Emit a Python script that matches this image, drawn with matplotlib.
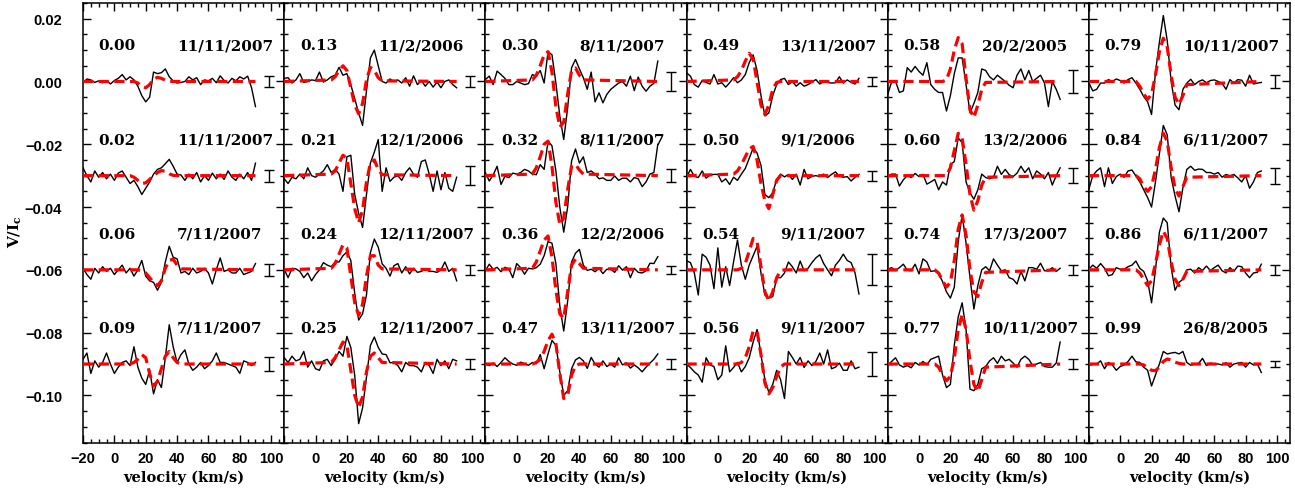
import matplotlib
matplotlib.use("Agg")
import matplotlib.pyplot as plt
from matplotlib.ticker import MultipleLocator, FuncFormatter

plt.rcParams['font.family'] = ['DejaVu Serif']
plt.rcParams['mathtext.fontset'] = 'dejavuserif'

# ---------------- data ----------------
velocity = [-20.0, -17.5, -15.0, -12.5, -10.0, -7.5, -5.0, -2.5, 0.0, 2.5,
            5.0, 7.5, 10.0, 12.5, 15.0, 17.5, 20.0, 22.5, 25.0, 27.5,
            30.0, 32.5, 35.0, 37.5, 40.0, 42.5, 45.0, 47.5, 50.0, 52.5,
            55.0, 57.5, 60.0, 62.5, 65.0, 67.5, 70.0, 72.5, 75.0, 77.5,
            80.0, 82.5, 85.0, 87.5, 90.0]
model_velocity = [-20.0, 10.0, 12.5, 15.0, 17.5, 20.0, 22.5, 25.0, 27.5, 30.0,
                  32.5, 35.0, 37.5, 40.0, 42.5, 90.0]
offsets = [0.0, -0.03, -0.06, -0.09]
unit = 1e-3   # profile values below are in units of 1e-3 (V/Ic)

phases = [["0.00", "0.02", "0.06", "0.09"],
          ["0.13", "0.21", "0.24", "0.25"],
          ["0.30", "0.32", "0.36", "0.47"],
          ["0.49", "0.50", "0.54", "0.56"],
          ["0.58", "0.60", "0.74", "0.77"],
          ["0.79", "0.84", "0.86", "0.99"]]
dates = [["11/11/2007", "11/11/2007", "7/11/2007", "7/11/2007"],
         ["11/2/2006", "12/1/2006", "12/11/2007", "12/11/2007"],
         ["8/11/2007", "8/11/2007", "12/2/2006", "13/11/2007"],
         ["13/11/2007", "9/1/2006", "9/11/2007", "9/11/2007"],
         ["20/2/2005", "13/2/2006", "17/3/2007", "10/11/2007"],
         ["10/11/2007", "6/11/2007", "6/11/2007", "26/8/2005"]]
errors = [[1.6, 1.9, 2.0, 2.3],
          [1.75, 3.0, 1.7, 1.7],
          [2.9, 2.1, 1.35, 1.6],
          [1.5, 1.6, 4.9, 3.7],
          [3.7, 2.4, 1.6, 1.7],
          [2.0, 2.55, 1.6, 1.0]]

# observed Stokes V profiles (1e-3 units)
obs_000 = [-0.5, 0.8, 0.5, -0.3, 0.2, -0.4, 0.3, -0.8, 0.3, 1.0, 2.2, 0.5, 1.5, 0.5, -1.5, -4.5, -6.5, -5.0, 3.0, 2.5, 2.8, 4.0, 1.5, 0.2, -0.5, -0.3, 0.0, 1.5, 0.5, 1.2, -1.0, 0.5, 0.2, 1.0, -0.4, 1.8, 0.3, -0.5, 1.0, 0.2, 1.5, 0.8, 1.7, -2.0, -8.0]
obs_002 = [2.5, 0.0, -2.0, 1.5, -0.5, 1.0, -1.0, 0.5, -1.5, 0.8, 1.5, -0.5, -2.5, -1.5, -3.5, -6.0, -4.0, -2.0, 0.5, 2.0, 2.5, 3.8, 5.2, 3.0, 0.5, 0.2, -1.5, 0.5, -1.0, 1.0, -2.0, 0.0, -1.5, 0.8, -1.0, 0.5, -1.2, 1.5, -0.5, -1.5, 0.5, -1.0, 1.0, -1.5, 4.0]
obs_006 = [0.5, -1.5, -3.0, 0.5, -1.0, 1.0, -0.5, 0.5, -1.5, 0.0, 1.5, -1.0, 0.5, -2.0, 0.0, 3.0, -2.0, -3.5, -4.0, -6.5, -4.0, 2.5, 7.5, 4.0, 3.5, -1.0, -0.5, -1.5, 0.5, -1.0, -0.5, 0.5, -1.0, -4.5, 0.0, 3.8, -0.5, 0.0, -1.0, -1.0, 0.5, -1.5, -1.0, -0.5, 2.0]
obs_009 = [1.5, 3.5, -3.0, 1.0, -1.0, 0.5, 3.5, 0.0, -3.0, -1.0, 0.5, 1.0, -0.5, 5.5, -1.0, -4.5, -6.5, -2.0, -9.5, -5.0, -7.5, 2.0, 12.5, 5.5, 0.5, 3.0, 4.5, 0.0, -2.0, -1.0, 0.5, -1.5, -0.5, 1.0, 3.5, 0.5, 0.5, 0.0, -0.5, -1.0, -3.0, 1.0, 0.5, -0.5, 0.5]
obs_013 = [1.0, 1.2, -0.5, 0.5, 2.5, -0.3, 0.0, 0.5, 0.3, 3.0, -0.2, 0.5, 1.5, 2.0, 4.5, 2.0, 2.5, -1.0, -5.5, -10.0, -14.0, -3.0, 7.5, 10.0, 5.0, 0.0, -0.5, 0.8, 0.0, 0.5, -0.5, 1.2, -1.5, 1.8, -1.0, 0.3, -1.5, 0.0, -1.8, -0.2, -2.0, 0.0, 0.5, -1.0, -2.0]
obs_021 = [-1.0, -2.5, -0.5, -1.0, 0.5, -1.0, 2.5, 0.0, -0.5, 0.5, 1.5, 3.5, 1.0, 2.0, 0.5, -5.0, 6.0, 6.5, -6.0, -12.0, -16.5, -6.0, 4.0, 7.5, 11.5, -5.0, 2.5, -1.8, -0.5, 0.0, -1.5, 1.0, 2.5, 0.5, -0.5, 4.5, 5.0, 0.5, -5.0, 1.5, -4.5, 1.0, -4.0, -5.0, -0.5]
obs_024 = [0.2, -2.5, 0.5, 0.3, -0.5, -2.5, -1.0, -3.5, -1.5, 0.0, 2.3, 1.5, 1.0, 2.5, 2.5, 4.5, 5.7, 3.0, -7.5, -16.0, -14.0, -8.0, 5.5, 9.8, 7.2, 1.9, 0.5, -2.0, 1.3, 2.0, -1.0, 1.0, -1.3, 0.5, -0.8, -0.5, 0.3, -0.5, -0.5, -0.8, 0.0, 2.5, -0.5, 0.5, -3.5]
obs_025 = [2.0, 0.5, 2.5, 1.0, 1.5, 4.0, -1.0, 1.0, -1.5, -2.0, 1.0, 1.5, -0.5, 1.5, 4.0, 2.5, 8.8, 5.3, -3.6, -19.0, -14.0, -4.2, 5.9, 8.6, 5.3, 3.2, 3.0, 0.4, 0.5, -0.5, -2.5, 0.5, -0.5, -0.5, -1.0, -2.5, 0.5, -0.5, -3.0, 1.5, -0.5, 1.0, -1.5, 1.5, 1.0]
obs_030 = [0.6, 1.7, -1.0, 3.3, 2.2, 1.0, -1.0, -1.0, 0.0, -0.5, -1.0, -0.7, 2.2, 1.7, 3.5, -0.5, 9.5, 8.5, -0.5, -11.0, -18.5, -8.4, 4.4, 7.0, 4.0, 1.2, -2.5, 3.0, -6.5, -3.6, -6.8, -4.1, -2.5, -1.5, -0.5, 0.0, -1.5, 1.7, -2.9, 1.4, -1.5, -3.1, -1.5, -0.6, 6.5]
obs_032 = [1.0, -1.7, 0.2, 3.0, -2.8, -0.2, -0.6, 0.8, 0.5, 1.0, 2.0, 1.5, 0.5, 0.3, 3.5, 2.0, 11.0, 9.5, 1.5, -10.0, -18.0, -10.0, 4.7, 8.5, 4.0, 6.0, 1.0, 1.5, 0.5, -1.0, -0.7, -1.5, -1.5, -0.1, -1.5, -0.8, -0.8, -2.0, -0.6, -1.0, -3.5, -2.0, 0.5, 1.0, 10.0]
obs_036 = [-0.3, 1.8, 0.2, 0.8, -0.6, 0.8, 0.3, -2.5, 2.0, 0.7, -1.4, 0.5, 0.3, 0.7, 1.8, 4.5, 9.0, 8.5, 2.0, -11.5, -19.5, -10.0, 2.5, 5.3, 6.5, 1.5, -0.2, 0.2, -0.6, 0.5, -1.2, 0.2, 0.2, -0.8, 1.3, -0.1, 1.0, -2.5, 0.5, -0.8, -1.0, -0.3, 2.1, 2.0, 4.2]
obs_047 = [0.0, -0.5, 0.3, -0.8, 0.5, 2.0, 0.8, 0.0, -0.4, 0.6, 0.1, -0.4, 0.5, 0.1, 3.0, -1.5, 3.2, 7.5, 6.0, -2.5, -10.0, -8.5, -1.5, 1.3, 2.1, 1.0, -1.4, 2.1, 0.0, -1.0, 1.0, -0.8, 0.0, -1.0, 2.0, -0.3, 0.4, -1.3, -0.3, -1.2, -2.5, -1.0, 0.3, 1.5, 3.2]
obs_049 = [2.8, 1.7, -1.0, -1.8, 0.3, -0.3, -0.8, 2.2, -0.8, -0.4, -1.8, -0.4, 1.2, -0.4, 0.5, 2.2, 6.0, 8.5, 3.5, -4.5, -11.0, -10.0, -4.5, -1.0, 0.6, 1.0, -1.0, 0.0, -1.5, -0.4, -1.5, -1.0, -0.2, 0.6, -0.8, 0.0, -0.3, -0.5, -0.4, 1.5, -0.5, 0.5, -0.3, -0.8, 1.0]
obs_050 = [-0.6, 2.0, -0.2, -0.6, 1.5, -0.8, 0.2, 0.4, 0.4, -2.0, -1.0, -2.8, -0.5, -1.5, 0.5, 2.3, 5.5, 8.8, 7.2, 3.3, -6.0, -7.0, -5.5, -1.2, 0.5, -0.4, 0.4, -1.2, 0.5, -3.0, 2.0, -1.0, -0.2, 0.0, -0.3, 0.5, -0.6, 0.4, 1.2, -0.2, -0.5, -0.3, -1.7, -0.5, 0.4]
obs_054 = [2.9, 2.3, -1.0, -8.0, 5.0, 4.0, 1.5, -6.0, 7.0, -5.5, 1.0, -5.0, 2.5, 9.5, 1.5, -3.0, 1.5, 4.5, 7.5, -1.0, -8.0, -9.0, -8.5, -2.5, -2.5, -1.0, 2.5, 1.0, -1.0, 2.8, -0.3, 0.5, 2.3, 3.8, 4.8, 2.0, 0.0, -1.9, 1.5, 3.0, 5.0, 3.0, 2.3, -1.0, -7.7]
obs_056 = [0.0, -1.1, -2.5, -3.5, -5.8, 2.0, -0.3, -0.8, -5.0, -3.5, 5.8, -2.5, -1.1, 0.5, -2.5, -0.8, 2.0, 7.0, 11.0, 3.0, -5.0, -9.0, -6.5, -2.0, -5.0, -11.0, 4.0, 2.1, 0.0, 2.1, -1.1, 1.0, -0.5, 0.8, 3.5, 0.0, 4.5, -1.5, -1.0, 0.3, -2.0, -2.0, 1.0, -1.5, -1.0]
obs_058 = [-4.1, -0.2, 0.1, -3.5, -3.0, 4.4, 3.0, 4.8, 3.2, 2.0, 6.0, -1.0, -2.5, -3.5, -3.5, -9.4, -4.5, 2.5, 7.5, 7.5, -1.0, -10.0, -7.0, -3.5, 4.0, 3.5, 1.5, 0.5, 2.0, 1.0, 0.0, -1.2, -2.0, 2.0, 4.0, 0.5, 3.5, 0.0, 1.0, 2.0, -0.5, -8.0, 0.0, -2.5, -5.7]
obs_060 = [-0.1, 0.5, 0.5, -3.3, -1.3, 0.0, -0.6, 0.7, -0.3, 0.4, -2.7, -2.0, -1.2, -4.5, -2.0, -3.0, 3.5, 4.5, 12.0, 10.5, -2.0, -5.5, -7.5, -4.5, 0.5, -0.6, -1.0, -0.5, 3.0, 0.4, 2.0, 0.3, -0.3, 0.8, 3.0, 1.0, 2.5, -1.0, 1.5, 0.5, -1.0, 1.0, -3.0, 0.0, 2.5]
obs_074 = [0.2, 0.7, -0.2, 0.7, 1.8, -0.1, -0.3, 1.8, -1.3, 3.5, 2.5, -0.5, -0.3, -1.3, -3.7, -7.0, -9.0, -5.5, 9.0, 17.5, 8.5, -2.5, -12.5, -5.0, 0.0, 1.0, -0.3, 3.5, 1.5, -0.3, 0.0, -2.5, -3.0, -4.5, -0.5, -3.5, 0.7, 0.7, 0.2, 2.1, -0.3, -0.3, 0.7, -0.5, 0.5]
obs_077 = [-0.5, 0.8, 2.0, -0.3, -1.0, -0.5, -1.2, 0.5, -0.3, 0.8, -0.2, 1.5, 2.0, 2.5, -3.5, -7.5, -6.5, 6.0, 15.0, 19.5, 11.0, -8.0, -8.5, -6.5, -1.5, -0.8, 1.0, 2.0, 0.2, 2.5, 1.0, 1.5, 0.3, -1.0, 1.5, 2.5, 1.5, -0.5, 0.0, 0.5, -0.8, -1.0, -1.0, 0.3, 7.0]
obs_079 = [-0.4, -3.0, -2.5, -0.5, -0.5, 0.6, 0.0, 0.8, 0.3, -0.5, 0.6, 1.2, -0.5, -2.5, -4.8, -6.5, -10.5, 3.0, 12.5, 21.0, 13.0, 0.0, -7.5, -9.0, -2.5, -0.5, 0.7, -1.0, 0.0, 0.5, -0.4, 0.3, 0.5, 0.0, -0.6, -2.5, 0.6, -0.5, 0.6, 0.4, -1.5, 2.0, -0.8, -0.5, -0.3]
obs_084 = [-4.4, 0.0, 1.5, 2.5, -3.5, 2.5, -2.5, -0.3, 0.5, -0.5, 1.5, 1.8, -0.1, -2.0, -4.5, -7.0, -10.0, -2.0, 7.0, 16.0, 13.0, -0.6, -6.5, -11.5, -3.8, 2.0, 3.0, 1.7, 2.1, 2.0, 1.0, 1.0, 0.5, 1.0, -0.5, 0.4, -0.1, 0.4, -0.7, -2.0, 0.0, -4.0, -2.0, 1.0, 1.5]
obs_086 = [0.2, 1.5, 0.5, 2.0, 0.5, -1.9, -1.5, 0.7, 0.2, 0.2, 1.0, 1.5, 2.8, 0.5, -0.5, -3.5, -10.5, 0.0, 12.0, 16.5, 15.0, 0.7, -6.5, -4.0, -3.0, 0.0, 0.2, -1.0, 0.7, -0.2, 1.2, -0.2, 0.7, 1.5, -0.3, -1.0, 0.7, -0.5, 1.2, 1.0, -1.0, -2.5, -1.0, -0.8, 1.8]
obs_099 = [-0.5, 0.0, 0.0, 1.0, -1.5, 0.5, -0.3, -2.0, -0.8, -0.3, 0.8, 2.5, 0.7, 0.5, -1.0, -2.0, -7.0, -3.5, 0.0, 4.0, 3.2, 3.5, 3.7, 3.2, 4.0, 0.5, -0.4, 0.0, 0.2, 1.8, -0.5, 0.3, 0.0, 0.0, -0.3, 0.4, -1.0, 0.0, 0.3, 0.5, -1.0, 0.5, -0.3, 0.0, -2.7]

# model profiles on model_velocity (1e-3 units)
mod_000 = [0, 0, 0, -0.5, -1.5, -2.0, -1.0, 0.8, 1.3, 1.0, 0.4, 0.1, 0, 0, 0, 0]
mod_002 = [0, 0, -0.5, -1.5, -2.5, -2.3, -1.2, 0.0, 1.0, 1.6, 1.4, 0.6, 0.1, 0, 0, 0]
mod_006 = [0, 0, 0, 0, -0.3, -1.0, -2.5, -4.0, -5.0, -3.5, 0.5, 3.0, 3.4, 1.5, 0.3, 0]
mod_009 = [0, 0, 0.5, 1.5, 3.0, 2.0, -3.0, -7.0, -5.5, -1.5, 2.5, 4.0, 2.0, 0.5, 0, 0]
mod_013 = [0, 0.5, 1.5, 3.5, 5.0, 3.5, -2.0, -7.5, -10.3, -7.0, 0.5, 4.5, 3.5, 1.2, 0.2, 0]
mod_021 = [0, 0.5, 1.5, 4.0, 6.5, 5.5, -2.5, -10.5, -15.0, -11.0, -2.0, 4.0, 5.0, 2.0, 0.3, 0]
mod_024 = [0, 0.5, 2.0, 5.0, 8.0, 7.0, -2.0, -10.5, -14.5, -11.0, -2.0, 4.5, 4.5, 1.5, 0.3, 0]
mod_025 = [0, 0.5, 2.0, 4.5, 7.0, 6.0, -2.0, -10.0, -13.8, -10.5, -2.5, 2.5, 3.5, 2.0, 0.5, 0]
mod_030 = [0, 0.5, 2.0, 5.0, 8.5, 9.5, 3.0, -8.0, -14.5, -13.0, -4.0, 3.5, 4.3, 2.0, 0.5, 0]
mod_032 = [0, 0.5, 2.5, 6.0, 10.0, 11.0, 3.0, -8.5, -15.5, -13.5, -4.5, 3.0, 3.6, 1.8, 0.5, 0]
mod_036 = [0, 0.5, 2.5, 6.0, 9.5, 10.8, 4.0, -6.5, -14.0, -15.5, -7.0, 1.5, 3.4, 2.0, 0.5, 0]
mod_047 = [0, 0, 0.5, 1.5, 4.0, 7.5, 9.5, 6.5, -3.0, -11.0, -10.0, -3.5, -0.5, 0, 0, 0]
mod_049 = [0, 0.5, 1.5, 3.5, 6.5, 9.0, 7.0, 0.0, -7.5, -10.5, -7.5, -2.5, -0.3, 0, 0, 0]
mod_050 = [0, 0.5, 1.5, 3.5, 6.0, 8.5, 9.3, 5.0, -2.5, -8.0, -10.5, -6.0, -1.5, 0, 0, 0]
mod_054 = [0, 0, 0, 0.5, 2.0, 6.0, 10.0, 9.0, 1.0, -7.0, -9.9, -7.0, -2.5, -0.3, 0, 0]
mod_056 = [0, 0, 0, 0.5, 2.0, 5.5, 10.5, 10.5, 3.0, -6.0, -9.5, -7.5, -4.0, -1.0, 0, 0]
mod_058 = [0, 0, 0, 0, 0.5, 4.0, 10.0, 14.0, 12.0, 1.0, -9.0, -11.5, -7.5, -2.5, -0.3, 0]
mod_060 = [0, 0, 0, 0, 0, 2.5, 8.0, 13.5, 12.0, 3.5, -6.0, -11.0, -8.0, -3.0, -0.5, 0]
mod_074 = [0, 0, -1.0, -3.5, -5.5, -4.0, 3.0, 13.0, 17.5, 11.0, 0.0, -7.0, -8.5, -4.0, -0.8, 0]
mod_077 = [0, 0, -1.0, -3.5, -5.3, -4.0, 2.0, 11.0, 15.8, 11.0, 1.0, -6.5, -8.8, -5.0, -1.0, 0]
mod_079 = [0, 0, -1.5, -4.0, -5.7, -4.0, 2.0, 9.5, 13.8, 11.0, 2.0, -5.0, -7.3, -4.5, -1.0, 0]
mod_084 = [0, 0, -1.0, -3.5, -5.0, -3.5, 2.0, 9.0, 13.5, 11.0, 2.5, -4.0, -6.5, -3.5, -0.5, 0]
mod_086 = [0, 0, -1.0, -3.0, -5.0, -3.5, 2.0, 8.0, 12.3, 10.0, 2.5, -3.0, -5.0, -3.0, -0.5, 0]
mod_099 = [0, 0, 0, -0.3, -1.2, -2.0, -2.1, -1.0, 0.8, 1.6, 1.3, 0.6, 0.2, 0, 0, 0]

observed = [[obs_000, obs_002, obs_006, obs_009],
            [obs_013, obs_021, obs_024, obs_025],
            [obs_030, obs_032, obs_036, obs_047],
            [obs_049, obs_050, obs_054, obs_056],
            [obs_058, obs_060, obs_074, obs_077],
            [obs_079, obs_084, obs_086, obs_099]]
models = [[mod_000, mod_002, mod_006, mod_009],
          [mod_013, mod_021, mod_024, mod_025],
          [mod_030, mod_032, mod_036, mod_047],
          [mod_049, mod_050, mod_054, mod_056],
          [mod_058, mod_060, mod_074, mod_077],
          [mod_079, mod_084, mod_086, mod_099]]

# ---------------- figure ----------------
W, H = 1295, 489
fig = plt.figure(figsize=(W / 100, H / 100), dpi=100)
left, right = 83 / W, 1290 / W
bottom, top = 1 - 443.5 / H, 1 - 4 / H
pw = (right - left) / 6


def yfmt(v, pos):
    s = f"{v:.2f}"
    if s == "-0.00":
        s = "0.00"
    return s.replace('-', '\u2212')


for k in range(6):
    ax = fig.add_axes([left + k * pw, bottom, pw, top - bottom])
    for j in range(4):
        off = offsets[j]
        ax.plot(velocity, [off + v * unit for v in observed[k][j]],
                color='black', lw=1.0, zorder=3)
        ax.plot(model_velocity, [off + v * unit for v in models[k][j]],
                color='#ff0000', lw=2.3, dashes=(3.2, 1.7), zorder=4)
        ax.errorbar([98.5], [off], yerr=[errors[k][j] * unit], fmt='none',
                    ecolor='black', elinewidth=1.0, capsize=3.5, capthick=1.0)
        ax.text(-10, off + 0.0115, phases[k][j], ha='left', va='center',
                fontsize=11, fontweight='bold')
        ax.text(40, off + 0.0115, dates[k][j], ha='left', va='center',
                fontsize=11, fontweight='bold')

    ax.set_xlim(-20, 108.3)
    ax.set_ylim(-0.115, 0.025)
    ax.xaxis.set_major_locator(MultipleLocator(20))
    ax.xaxis.set_minor_locator(MultipleLocator(5))
    ax.yaxis.set_major_locator(MultipleLocator(0.02))
    ax.yaxis.set_minor_locator(MultipleLocator(0.005))
    ax.tick_params(which='both', direction='in', top=True, right=True, width=1.0)
    ax.tick_params(which='major', length=5.5)
    ax.tick_params(which='minor', length=2.8)
    ax.tick_params(axis='x', which='major', pad=6.0)
    ax.tick_params(axis='y', which='major', pad=15)
    for sp in ax.spines.values():
        sp.set_linewidth(1.1)

    if k == 0:
        ax.xaxis.set_major_formatter(FuncFormatter(lambda v, p: f"{v:.0f}".replace('-', '\u2212')))
        ax.yaxis.set_major_formatter(FuncFormatter(yfmt))
    else:
        ax.xaxis.set_major_formatter(FuncFormatter(lambda v, p: '' if v < -10 else f"{v:.0f}"))
        ax.yaxis.set_major_formatter(FuncFormatter(lambda v, p: ''))
    for lab in ax.get_xticklabels() + ax.get_yticklabels():
        lab.set_fontfamily('Liberation Sans')
        lab.set_fontweight('bold')
        lab.set_fontsize(10.5)

    ax.text(0.5, -(478 - 443.5) / 439.5, 'velocity (km/s)', transform=ax.transAxes,
            ha='center', va='center', fontsize=10.5, fontweight='bold')

fig.text(15 / W, 1 - 232 / H, r'V/I$_\mathbf{c}$', rotation=90, ha='center', va='center',
         fontsize=11, fontweight='bold')

fig.savefig('out.png', dpi=100)
